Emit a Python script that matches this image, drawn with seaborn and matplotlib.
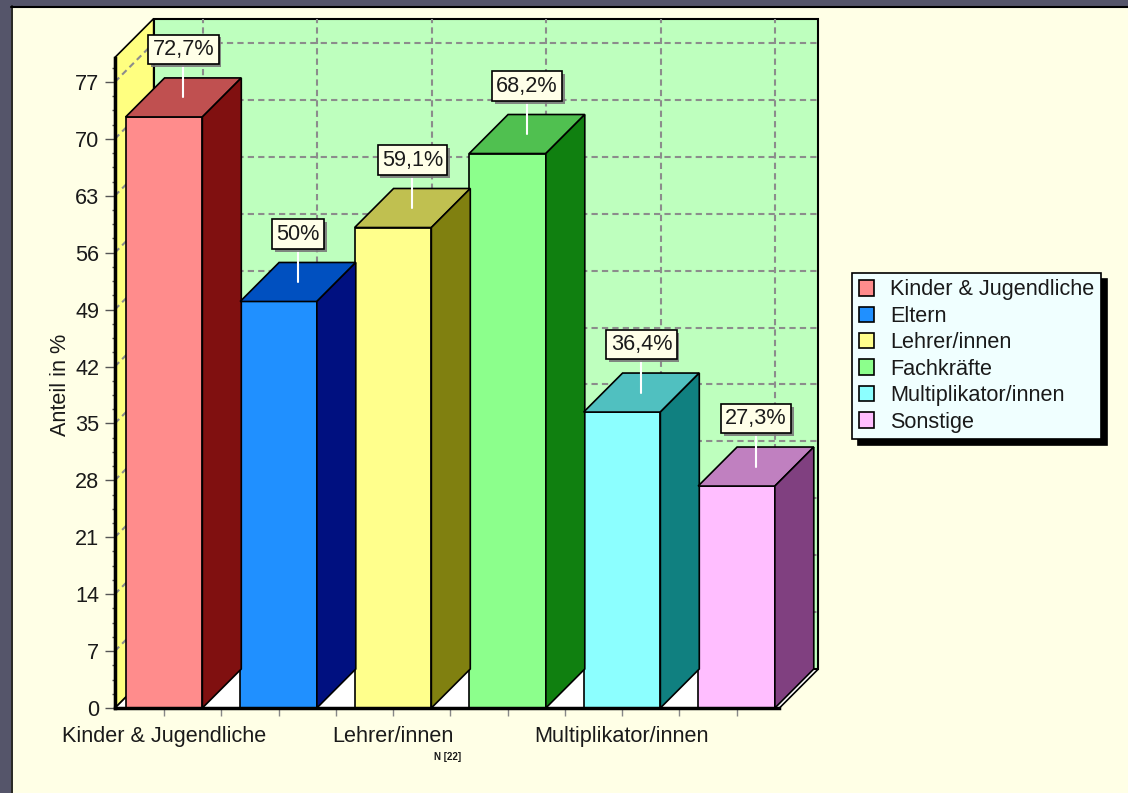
import matplotlib
matplotlib.use("Agg")
from matplotlib import pyplot as plt
from matplotlib import patheffects
from matplotlib.lines import Line2D
from matplotlib.patches import Patch, Polygon, Rectangle
import numpy as np
import seaborn as sns

# ----- DATA -----
categories = ["Kinder & Jugendliche", "Eltern", "Lehrer/innen",
              "Fachkräfte", "Multiplikator/innen", "Sonstige"]
values = [72.7, 50.0, 59.1, 68.2, 36.4, 27.3]
y_ticks = [0, 7, 14, 21, 28, 35, 42, 49, 56, 63, 70, 77]

front_colors = ["#FF8C8C", "#2090FF", "#FFFF8C", "#8CFF8C", "#8CFFFF", "#FFBEFF"]
top_colors = ["#C05050", "#0050C0", "#C0C050", "#50C050", "#50C0C0", "#C080C0"]
side_colors = ["#801010", "#001080", "#808010", "#108010", "#108080", "#804080"]

# ----- STYLE -----
sns.set_style("white")
plt.rcParams["font.family"] = ["Liberation Sans", "DejaVu Sans"]
FS = 15.6
plt.rcParams["font.size"] = FS
plt.rcParams["text.color"] = "#1A1A1A"

W, H = 1128, 793
fig = plt.figure(figsize=(W / 100, H / 100), dpi=100, facecolor="#FFFFE6")

# pseudo 3d geometry (data units)
PX_X, PX_Y = 114.5, 8.13          # pixels per category / per percent
X0, X1 = -0.43, 5.375             # floor front edge
DX, DY = 0.34, 4.8                # depth offset
YMAX = 80
BAR_W = 0.67

xlim = (X0, X1 + DX + 0.03)
ylim = (0, YMAX + DY + 0.3)
ax = fig.add_axes([(164 + X0 * PX_X) / W, 85 / H,
                   (xlim[1] - xlim[0]) * PX_X / W, ylim[1] * PX_Y / H])
ax.patch.set_visible(False)

# walls and floor
ax.add_patch(Polygon([(X0, 0), (X1, 0), (X1 + DX, DY), (X0 + DX, DY)],
                     closed=True, fc="white", ec="black", lw=1.2, zorder=1, clip_on=False))
ax.add_patch(Polygon([(X0, 0), (X0 + DX, DY), (X0 + DX, YMAX + DY), (X0, YMAX)],
                     closed=True, fc="#FFFF80", ec="black", lw=1.2, zorder=1, clip_on=False))
ax.add_patch(Rectangle((X0 + DX, DY), X1 - X0, YMAX, fc="#BEFFBE", ec="black",
                       lw=1.5, zorder=1, clip_on=False))

# dashed grid
grid_kw = dict(color="#8C8C8C", lw=1.5, dashes=(3, 2), zorder=1.5, clip_on=False)
for t in y_ticks[1:]:
    ax.plot([X0 + DX, X1 + DX], [t + DY, t + DY], **grid_kw)
    ax.plot([X0, X0 + DX], [t, t + DY], **grid_kw)
for i in range(len(categories)):
    ax.plot([i + DX, i + DX], [DY, YMAX + DY], **grid_kw)

# front faces
sns.barplot(x=categories, y=values, hue=categories, palette=front_colors,
            width=BAR_W, saturation=1, edgecolor="black", linewidth=1.2,
            legend=False, ax=ax, zorder=3)

# tops, sides, value boxes
for i, v in enumerate(values):
    l, r = i - BAR_W / 2, i + BAR_W / 2
    ax.add_patch(Polygon([(l, v), (r, v), (r + DX, v + DY), (l + DX, v + DY)],
                         closed=True, fc=top_colors[i], ec="black", lw=1.2, zorder=3))
    ax.add_patch(Polygon([(r, 0), (r + DX, DY), (r + DX, v + DY), (r, v)],
                         closed=True, fc=side_colors[i], ec="black", lw=1.2, zorder=3))
    cx, cy = i + DX / 2, v + DY / 2
    ax.plot([cx, cx], [cy, cy + 4.3], color="white", lw=1.5, zorder=4)
    label = f"{v:.1f}".replace(".0", "").replace(".", ",") + "%"
    txt = ax.text(cx, cy + 5.9, label, ha="center", va="center", fontsize=FS, zorder=6,
                  bbox=dict(boxstyle="square,pad=0.2", fc="#FFFFE8", ec="black", lw=1.2))
    txt.get_bbox_patch().set_path_effects([
        patheffects.SimplePatchShadow(offset=(2, -2), shadow_rgbFace="#7A7A7A", alpha=0.9),
        patheffects.Normal()])

ax.set_xlim(*xlim)
ax.set_ylim(*ylim)

# axes
for s in ["top", "right"]:
    ax.spines[s].set_visible(False)
ax.spines["left"].set_bounds(0, YMAX)
ax.spines["bottom"].set_bounds(X0, X1)
for s in ["left", "bottom"]:
    ax.spines[s].set_linewidth(2.5)
    ax.spines[s].set_color("black")
    ax.spines[s].set_zorder(5)

ax.set_yticks(y_ticks)
ax.set_yticks(np.arange(0, YMAX, 1.75), minor=True)
ax.tick_params(axis="y", which="major", direction="out", length=7, width=1,
               color="#555555", pad=4, labelsize=FS, labelcolor="#1A1A1A", left=True)
ax.tick_params(axis="y", which="minor", direction="inout", length=4, width=1,
               color="#555555", left=True)

xt = np.arange(0, len(categories) - 0.99, 0.5)
ax.set_xticks(xt)
ax.set_xticklabels([categories[int(t)] if t == int(t) and int(t) % 2 == 0 else "" for t in xt])
ax.tick_params(axis="x", direction="out", length=6, width=1, color="#888888",
               pad=7, labelsize=FS, labelcolor="#1A1A1A", bottom=True)
ax.set_xlabel("")
ax.set_ylabel("")

fig.text(60 / W, 1 - 385 / H, "Anteil in %", rotation=90, ha="center", va="center", fontsize=FS)
fig.text(448 / W, 1 - 757 / H, "N [22]", ha="center", va="center", fontsize=7, fontweight="bold")

# legend
handles = [Patch(facecolor=c, edgecolor="black", linewidth=1.2) for c in front_colors]
leg = fig.legend(handles, categories, loc="upper left",
                 bbox_to_anchor=(852 / W, 1 - 273 / H), frameon=True, fancybox=False,
                 shadow={"ox": 4, "oy": -4, "facecolor": "black", "edgecolor": "black", "alpha": 1},
                 facecolor="#F0FFFF", edgecolor="black", framealpha=1,
                 borderpad=0.3, handlelength=0.72, handleheight=0.72, handletextpad=0.75,
                 labelspacing=0.25, borderaxespad=0, fontsize=FS)
leg.get_frame().set_linewidth(1.2)

# dark window frame
fig.add_artist(Rectangle((0, 0), 11 / W, 1, transform=fig.transFigure,
                         fc="#55556A", ec="none", zorder=10))
fig.add_artist(Rectangle((0, 1 - 6 / H), 1, 6 / H, transform=fig.transFigure,
                         fc="#55556A", ec="none", zorder=10))
fig.add_artist(Line2D([11.5 / W, 11.5 / W], [0, 1 - 6 / H], transform=fig.transFigure,
                      color="black", lw=1.2, zorder=11))
fig.add_artist(Line2D([11 / W, 1], [1 - 6.5 / H, 1 - 6.5 / H], transform=fig.transFigure,
                      color="black", lw=1.5, zorder=11))

fig.savefig("out.png", dpi=100, facecolor=fig.get_facecolor())
